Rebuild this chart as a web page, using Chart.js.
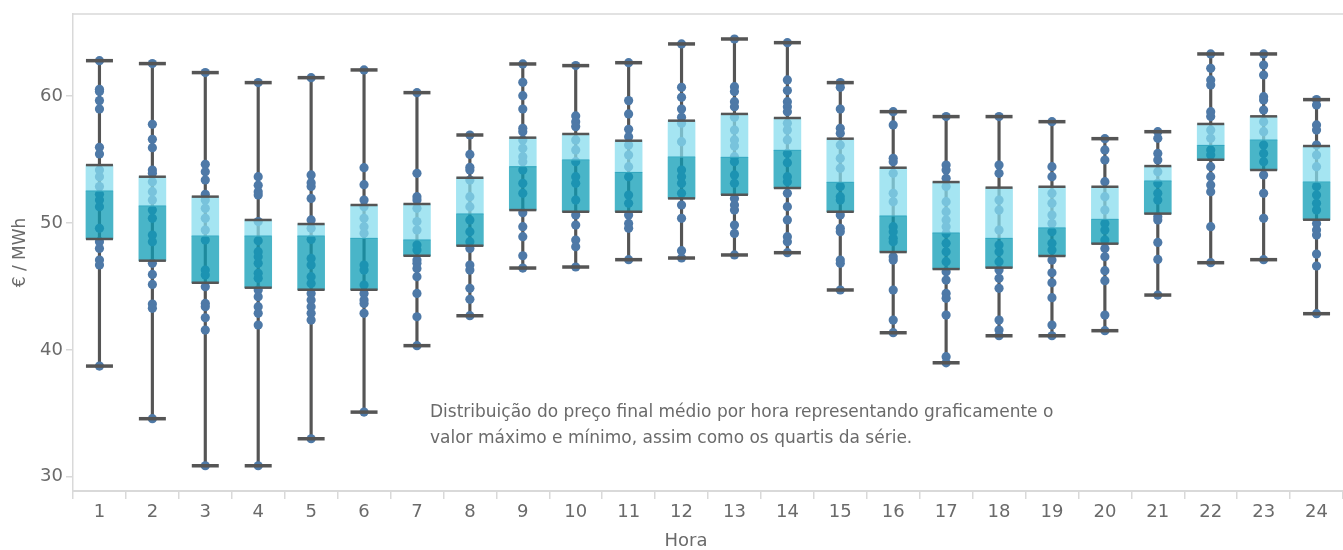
<!DOCTYPE html>
<html><head><meta charset="utf-8">
<script src="https://cdn.jsdelivr.net/npm/chart.js@4/dist/chart.umd.min.js"></script>
<style>html,body{margin:0;padding:0;background:#fff;overflow:hidden}canvas{display:block}</style>
</head><body><canvas id="c" width="1343" height="550" style="width:1343px;height:550px"></canvas>
<script>
const hours = ['1','2','3','4','5','6','7','8','9','10','11','12','13','14','15','16','17','18','19','20','21','22','23','24'];
const minVals = [38.72, 34.57, 30.86, 30.86, 32.99, 35.09, 40.33, 42.69, 46.45, 46.53, 47.11, 47.24, 47.48, 47.66, 44.72, 41.35, 38.98, 41.11, 41.11, 41.51, 44.32, 46.87, 47.11, 42.85];
const q1Vals  = [48.74, 47.03, 45.29, 44.90, 44.74, 44.74, 47.42, 48.21, 51.02, 50.89, 50.89, 51.94, 52.23, 52.76, 50.89, 47.71, 46.37, 46.48, 47.40, 48.37, 50.74, 54.99, 54.18, 50.26];
const medVals = [52.52, 51.34, 48.97, 48.97, 48.97, 48.79, 48.66, 50.71, 54.44, 54.97, 53.99, 55.20, 55.18, 55.73, 53.21, 50.55, 49.21, 48.79, 49.61, 50.29, 53.31, 56.12, 56.54, 53.23];
const q3Vals  = [54.57, 53.65, 52.08, 50.24, 49.92, 51.42, 51.50, 53.57, 56.73, 57.02, 56.49, 58.07, 58.60, 58.28, 56.65, 54.36, 53.23, 52.79, 52.86, 52.86, 54.49, 57.81, 58.41, 56.07];
const maxVals = [62.80, 62.57, 61.86, 61.07, 61.46, 62.07, 60.28, 56.94, 62.54, 62.41, 62.64, 64.12, 64.51, 64.22, 61.07, 58.78, 58.39, 58.39, 57.99, 56.65, 57.20, 63.33, 63.33, 59.73];
const dailyPrices = [
  [62.80, 60.54, 60.36, 59.65, 58.99, 55.97, 55.44, 54.18, 53.65, 52.87, 52.26, 51.81, 51.29, 49.58, 48.53, 48.00, 47.08, 46.69, 38.72],
  [62.57, 57.78, 56.60, 55.94, 54.18, 53.92, 53.26, 52.47, 51.81, 51.02, 50.37, 49.05, 48.53, 46.82, 45.95, 45.16, 43.61, 43.27, 34.57],
  [61.86, 54.63, 54.05, 53.39, 52.26, 51.81, 51.16, 50.37, 49.45, 48.66, 46.29, 45.90, 44.98, 43.66, 43.40, 42.53, 41.56, 30.86],
  [61.07, 53.65, 52.98, 52.47, 52.21, 50.11, 48.61, 47.74, 47.34, 46.82, 46.03, 45.64, 44.72, 44.19, 43.40, 42.88, 41.96, 30.86],
  [61.46, 53.79, 53.18, 52.87, 51.94, 50.24, 49.58, 48.71, 47.21, 46.69, 45.77, 45.24, 44.45, 43.93, 43.40, 42.88, 42.35, 32.99],
  [62.07, 54.36, 53.02, 51.81, 51.29, 50.37, 49.71, 49.19, 46.69, 46.29, 45.11, 44.45, 43.93, 43.66, 42.88, 35.09],
  [60.28, 53.92, 52.08, 51.81, 51.16, 50.11, 49.45, 48.26, 47.87, 47.08, 46.82, 46.42, 45.77, 44.45, 42.61, 40.33],
  [56.94, 55.41, 54.39, 54.18, 53.39, 52.08, 51.29, 50.24, 49.32, 48.53, 48.00, 46.69, 46.29, 44.85, 43.98, 42.69],
  [62.54, 61.09, 60.04, 58.99, 57.47, 57.20, 56.55, 55.89, 55.23, 54.84, 54.18, 53.13, 52.34, 50.81, 49.71, 48.92, 47.42, 46.45],
  [62.41, 58.44, 57.99, 57.60, 56.55, 55.76, 54.84, 53.65, 53.13, 51.81, 50.63, 49.84, 48.66, 48.13, 46.53],
  [62.64, 59.65, 58.60, 57.39, 56.81, 56.15, 55.36, 54.44, 53.65, 52.21, 51.55, 50.63, 49.97, 49.58, 47.11],
  [64.12, 60.70, 59.91, 58.99, 58.33, 57.86, 56.41, 54.18, 53.65, 53.13, 52.34, 51.42, 50.37, 47.82, 47.24],
  [64.51, 60.75, 60.36, 59.57, 59.17, 58.33, 57.33, 56.55, 56.07, 55.23, 54.84, 53.79, 53.13, 51.94, 51.42, 51.02, 49.84, 49.18, 47.48],
  [64.22, 61.28, 60.44, 59.57, 59.17, 58.78, 57.86, 57.33, 56.55, 55.49, 54.76, 53.65, 53.26, 52.34, 51.29, 50.24, 48.92, 48.53, 47.66],
  [61.07, 60.70, 58.99, 57.47, 57.07, 56.15, 55.10, 54.31, 52.87, 52.08, 51.81, 50.63, 49.58, 49.32, 47.08, 46.82, 44.72],
  [58.78, 57.73, 55.10, 54.84, 53.92, 52.34, 51.68, 49.71, 49.32, 48.79, 48.53, 47.34, 47.08, 44.72, 42.35, 41.35],
  [58.39, 54.57, 54.18, 53.52, 52.87, 51.68, 50.89, 50.24, 49.71, 49.18, 48.40, 47.74, 46.95, 46.16, 45.50, 44.45, 44.06, 42.74, 39.46, 38.98],
  [58.39, 54.57, 53.92, 51.81, 51.02, 49.45, 48.26, 47.74, 46.95, 46.29, 45.64, 44.85, 42.35, 41.56, 41.11],
  [57.99, 54.44, 53.65, 52.34, 51.55, 50.63, 49.97, 49.32, 48.40, 47.87, 47.08, 46.08, 45.29, 44.11, 41.96, 41.11],
  [56.65, 55.76, 54.97, 53.26, 52.08, 51.02, 49.97, 49.45, 48.66, 48.00, 47.34, 46.24, 45.45, 42.74, 41.51],
  [57.20, 56.68, 55.49, 54.97, 54.05, 53.13, 52.34, 51.81, 50.50, 50.24, 48.47, 47.13, 44.32],
  [63.33, 62.20, 61.28, 60.88, 58.78, 58.39, 57.33, 56.68, 55.76, 55.36, 54.44, 53.65, 53.00, 52.47, 49.71, 46.87],
  [63.33, 62.46, 61.67, 59.96, 59.70, 58.91, 57.99, 57.20, 56.15, 55.49, 54.84, 53.79, 52.34, 50.37, 47.11],
  [59.73, 59.31, 57.73, 57.33, 56.15, 55.36, 54.44, 52.87, 52.21, 51.55, 51.02, 49.97, 49.45, 49.05, 47.55, 46.61, 42.85]
];
const yTicks = [30, 40, 50, 60];
const yTitle = '€ / MWh';
const xTitle = 'Hora';
const noteLines = ['Distribuição do preço final médio por hora representando graficamente o',
                   'valor máximo e mínimo, assim como os quartis da série.'];

const FONT = '"DejaVu Sans", "Open Sans", sans-serif';
const TXT = '#6a6a6a';
const AXIS = '#d9d9d9';
const DARK = '#555555';

const pointData = dailyPrices.flatMap((arr, i) => arr.map(v => ({x: hours[i], y: v})));
const capData = hours.flatMap((h, i) => [{x: h, y: minVals[i]}, {x: h, y: maxVals[i]}]);
const quartData = hours.flatMap((h, i) => [{x: h, y: q1Vals[i]}, {x: h, y: q3Vals[i]}]);

const decor = {
  id: 'decor',
  afterDraw(chart) {
    const {ctx, chartArea: a} = chart;
    ctx.save();
    ctx.strokeStyle = AXIS; ctx.lineWidth = 1.5;
    ctx.beginPath(); ctx.moveTo(a.left, a.top); ctx.lineTo(a.right, a.top); ctx.stroke();
    ctx.fillStyle = TXT;
    ctx.textBaseline = 'middle';
    ctx.textAlign = 'center';
    ctx.font = '18px ' + FONT;
    ctx.fillText(xTitle, 686, 541);
    ctx.textAlign = 'left';
    ctx.font = '17px ' + FONT;
    ctx.fillText(noteLines[0], 430, 413);
    ctx.fillText(noteLines[1], 430, 439);
    ctx.restore();
  }
};

new Chart(document.getElementById('c'), {
  data: {
    labels: hours,
    datasets: [
      {type: 'bar', label: 'Mín–Máx', data: hours.map((h, i) => [minVals[i], maxVals[i]]),
       backgroundColor: DARK, barThickness: 2.5, grouped: false, order: 6},
      {type: 'line', label: 'Preço diário', data: pointData, showLine: false,
       pointRadius: 4.6, pointBackgroundColor: 'rgb(78,121,167)', pointBorderWidth: 0, order: 5},
      {type: 'bar', label: 'Q1–Mediana', data: hours.map((h, i) => [q1Vals[i], medVals[i]]),
       backgroundColor: 'rgba(12,156,182,0.75)', barThickness: 27, grouped: false, order: 4},
      {type: 'bar', label: 'Mediana–Q3', data: hours.map((h, i) => [medVals[i], q3Vals[i]]),
       backgroundColor: 'rgba(135,220,238,0.75)', barThickness: 27, grouped: false, order: 3},
      {type: 'line', label: 'Mediana', data: medVals, showLine: false, pointStyle: 'line',
       pointRadius: 13.5, pointBorderWidth: 1, pointBorderColor: 'rgba(40,160,185,0.9)', order: 2},
      {type: 'line', label: 'Quartis', data: quartData, showLine: false, pointStyle: 'line',
       pointRadius: 13.5, pointBorderWidth: 2.5, pointBorderColor: DARK, order: 1},
      {type: 'line', label: 'Extremos', data: capData, showLine: false, pointStyle: 'line',
       pointRadius: 13.5, pointBorderWidth: 3.5, pointBorderColor: DARK, order: 0}
    ]
  },
  options: {
    responsive: false, animation: false, events: [],
    layout: {autoPadding: false, padding: {top: 14, left: 0, right: 0, bottom: 0}},
    plugins: {legend: {display: false}, tooltip: {enabled: false}},
    scales: {
      x: {
        type: 'category', offset: true,
        grid: {offset: true, drawOnChartArea: false, color: AXIS, tickLength: 8, lineWidth: 1.5},
        border: {color: AXIS, width: 2},
        ticks: {font: {family: FONT, size: 18}, color: TXT, padding: 3, maxRotation: 0, autoSkip: false},
        afterFit: s => { s.height = 59; s.paddingLeft = 0; s.paddingRight = 0; }
      },
      y: {
        min: 28.87, max: 66.48,
        afterBuildTicks: s => { s.ticks = yTicks.map(v => ({value: v})); },
        grid: {drawOnChartArea: false, color: AXIS, tickLength: 7, lineWidth: 1.5},
        border: {color: AXIS, width: 1.5},
        ticks: {font: {family: FONT, size: 18}, color: TXT, padding: 3},
        title: {display: true, text: yTitle, color: TXT, font: {family: FONT, size: 17}, padding: {top: 10, bottom: 0}},
        afterFit: s => { s.width = 73; s.paddingTop = 0; s.paddingBottom = 0; }
      }
    }
  },
  plugins: [decor]
});
</script>
</body></html>
